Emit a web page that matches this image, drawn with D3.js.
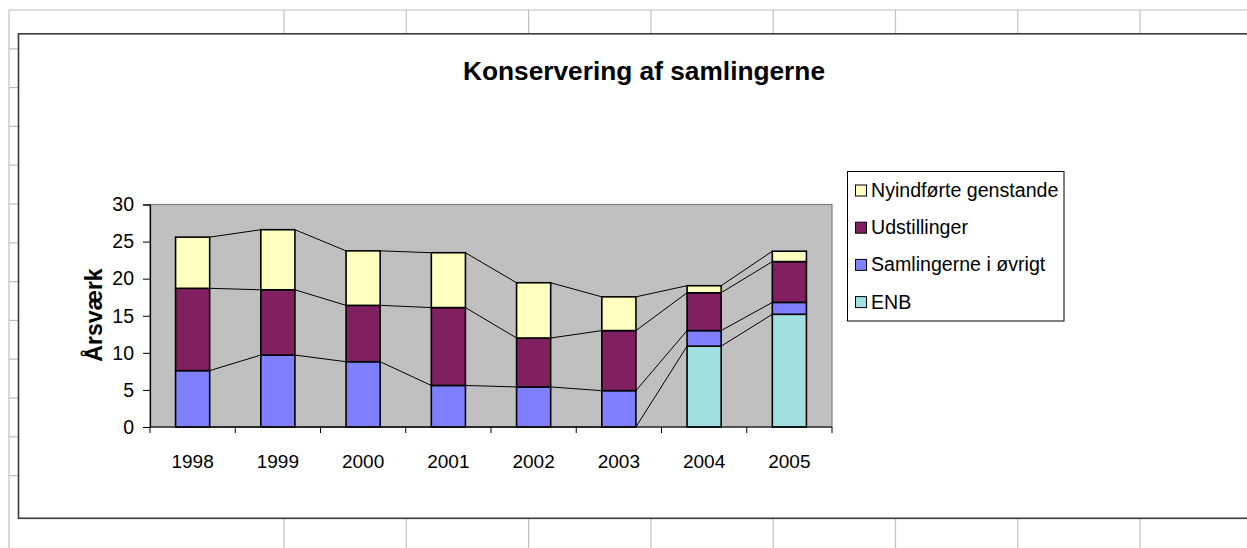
<!DOCTYPE html>
<html>
<head>
<meta charset="utf-8">
<script src="https://cdn.jsdelivr.net/npm/d3@7"></script>
<style>
  html, body { margin: 0; padding: 0; background: #fff; }
  svg { display: block; }
  text { font-family: "Liberation Sans", Arial, sans-serif; fill: #000; }
</style>
</head>
<body>
<svg id="chart" width="1247" height="548"></svg>
<script>
// ---- data ----
const years = ["1998", "1999", "2000", "2001", "2002", "2003", "2004", "2005"];
const seriesNames = ["ENB", "Samlingerne i øvrigt", "Udstillinger", "Nyindførte genstande"];
const enb          = [0, 0, 0, 0, 0, 0, 10.9, 15.2];
const samlingerne  = [7.6, 9.7, 8.8, 5.6, 5.4, 4.9, 2.1, 1.6];
const udstillinger = [11.1, 8.8, 7.6, 10.5, 6.6, 8.1, 5.1, 5.5];
const nyindforte   = [6.9, 8.1, 7.35, 7.4, 7.45, 4.55, 0.95, 1.4];
const yTicks = [0, 5, 10, 15, 20, 25, 30];
const titleText = "Konservering af samlingerne";
const yLabel = "Årsværk";

const colors = {
  "ENB": "#A0E0E0",
  "Samlingerne i øvrigt": "#8080FF",
  "Udstillinger": "#802060",
  "Nyindførte genstande": "#FFFFC0"
};

const svg = d3.select("#chart");

// ---- spreadsheet background grid ----
const grid = svg.append("g").attr("stroke", "#c0c0c0").attr("stroke-width", 1.2);
const colXs = [284, 406.3, 528.6, 650.9, 773.2, 895.5, 1017.8, 1140.1];
const rowYs = d3.range(13).map(k => 10 + 38.8 * k);
grid.append("line").attr("x1", 9).attr("x2", 1247).attr("y1", 10).attr("y2", 10);
grid.append("line").attr("x1", 9).attr("x2", 9).attr("y1", 10).attr("y2", 548);
colXs.forEach(cx => {
  grid.append("line").attr("x1", cx).attr("x2", cx).attr("y1", 10).attr("y2", 548);
});
rowYs.slice(1).forEach(ry => {
  grid.append("line").attr("x1", 9).attr("x2", 20).attr("y1", ry).attr("y2", ry);
});

// ---- chart area ----
svg.append("rect")
  .attr("x", 18.5).attr("y", 33.8).attr("width", 1240).attr("height", 484.5)
  .attr("fill", "#fff").attr("stroke", "#3a3a3a").attr("stroke-width", 1.6);

// title
svg.append("text")
  .attr("x", 644).attr("y", 79.5)
  .attr("text-anchor", "middle")
  .attr("font-size", 25).attr("font-weight", "bold")
  .attr("textLength", 362).attr("lengthAdjust", "spacingAndGlyphs")
  .text(titleText);

// ---- plot ----
const pl = 150, pr = 832, pt = 204.5, pb = 427;

const x = d3.scaleBand().domain(years).range([pl, pr]).paddingInner(0.6).paddingOuter(0.3);
const y = d3.scaleLinear().domain([0, 30]).range([pb, pt]);

svg.append("rect")
  .attr("x", pl).attr("y", pt).attr("width", pr - pl).attr("height", pb - pt)
  .attr("fill", "#C0C0C0").attr("stroke", "#808080").attr("stroke-width", 1.2);

// stacked data
const table = years.map((yr, i) => ({
  year: yr,
  "ENB": enb[i],
  "Samlingerne i øvrigt": samlingerne[i],
  "Udstillinger": udstillinger[i],
  "Nyindførte genstande": nyindforte[i]
}));
const stacked = d3.stack().keys(seriesNames)(table);

// series lines between bars
const bw = x.bandwidth();
const lineG = svg.append("g").attr("stroke", "#000").attr("stroke-width", 1).attr("fill", "none");
stacked.forEach(s => {
  for (let i = 0; i < years.length - 1; i++) {
    lineG.append("line")
      .attr("x1", x(years[i]) + bw).attr("y1", y(s[i][1]))
      .attr("x2", x(years[i + 1])).attr("y2", y(s[i + 1][1]));
  }
});

// bars
const barG = svg.append("g");
stacked.forEach(s => {
  barG.selectAll(null)
    .data(s.filter(d => d[1] - d[0] > 0))
    .enter().append("rect")
    .attr("x", d => x(d.data.year))
    .attr("y", d => y(d[1]))
    .attr("width", bw)
    .attr("height", d => y(d[0]) - y(d[1]))
    .attr("fill", colors[s.key])
    .attr("stroke", "#000").attr("stroke-width", 1.6);
});

// y axis
const yAxis = svg.append("g")
  .attr("transform", `translate(${pl},0)`)
  .call(d3.axisLeft(y).tickValues(yTicks).tickSize(7).tickPadding(9).tickFormat(d3.format("d")));
yAxis.select(".domain").attr("stroke", "#000").attr("stroke-width", 1.2);
yAxis.selectAll(".tick line").attr("stroke", "#000");
yAxis.selectAll("text").attr("font-size", 19.5).attr("font-family", "Liberation Sans, Arial, sans-serif").attr("fill", "#000");

// x axis (baseline, boundary ticks, labels)
svg.append("line").attr("x1", pl).attr("x2", pr).attr("y1", pb).attr("y2", pb)
  .attr("stroke", "#000").attr("stroke-width", 1.2);
const step = x.step();
const bounds = d3.range(years.length + 1).map(i => pl + i * step);
svg.append("g").selectAll("line").data(bounds).enter().append("line")
  .attr("x1", d => d).attr("x2", d => d).attr("y1", pb).attr("y2", pb + 6)
  .attr("stroke", "#000").attr("stroke-width", 1);
svg.append("g").selectAll("text").data(years).enter().append("text")
  .attr("x", d => x(d) + bw / 2).attr("y", 468)
  .attr("text-anchor", "middle").attr("font-size", 19)
  .text(d => d);

// y label
svg.append("text")
  .attr("transform", "translate(102,315) rotate(-90)")
  .attr("text-anchor", "middle").attr("font-size", 23).attr("font-weight", "bold")
  .text(yLabel);

// ---- legend ----
const legendOrder = seriesNames.slice().reverse();
const lg = svg.append("g");
lg.append("rect").attr("x", 847.5).attr("y", 171.5).attr("width", 216.5).attr("height", 149.5)
  .attr("fill", "#fff").attr("stroke", "#000").attr("stroke-width", 1);
legendOrder.forEach((name, i) => {
  const cy = 190 + i * 37.2;
  lg.append("rect").attr("x", 855.5).attr("y", cy - 5).attr("width", 11).attr("height", 11)
    .attr("fill", colors[name]).attr("stroke", "#000").attr("stroke-width", 1);
  lg.append("text").attr("x", 871).attr("y", cy + 7).attr("font-size", 19.6)
    .text(name);
});
</script>
</body>
</html>
